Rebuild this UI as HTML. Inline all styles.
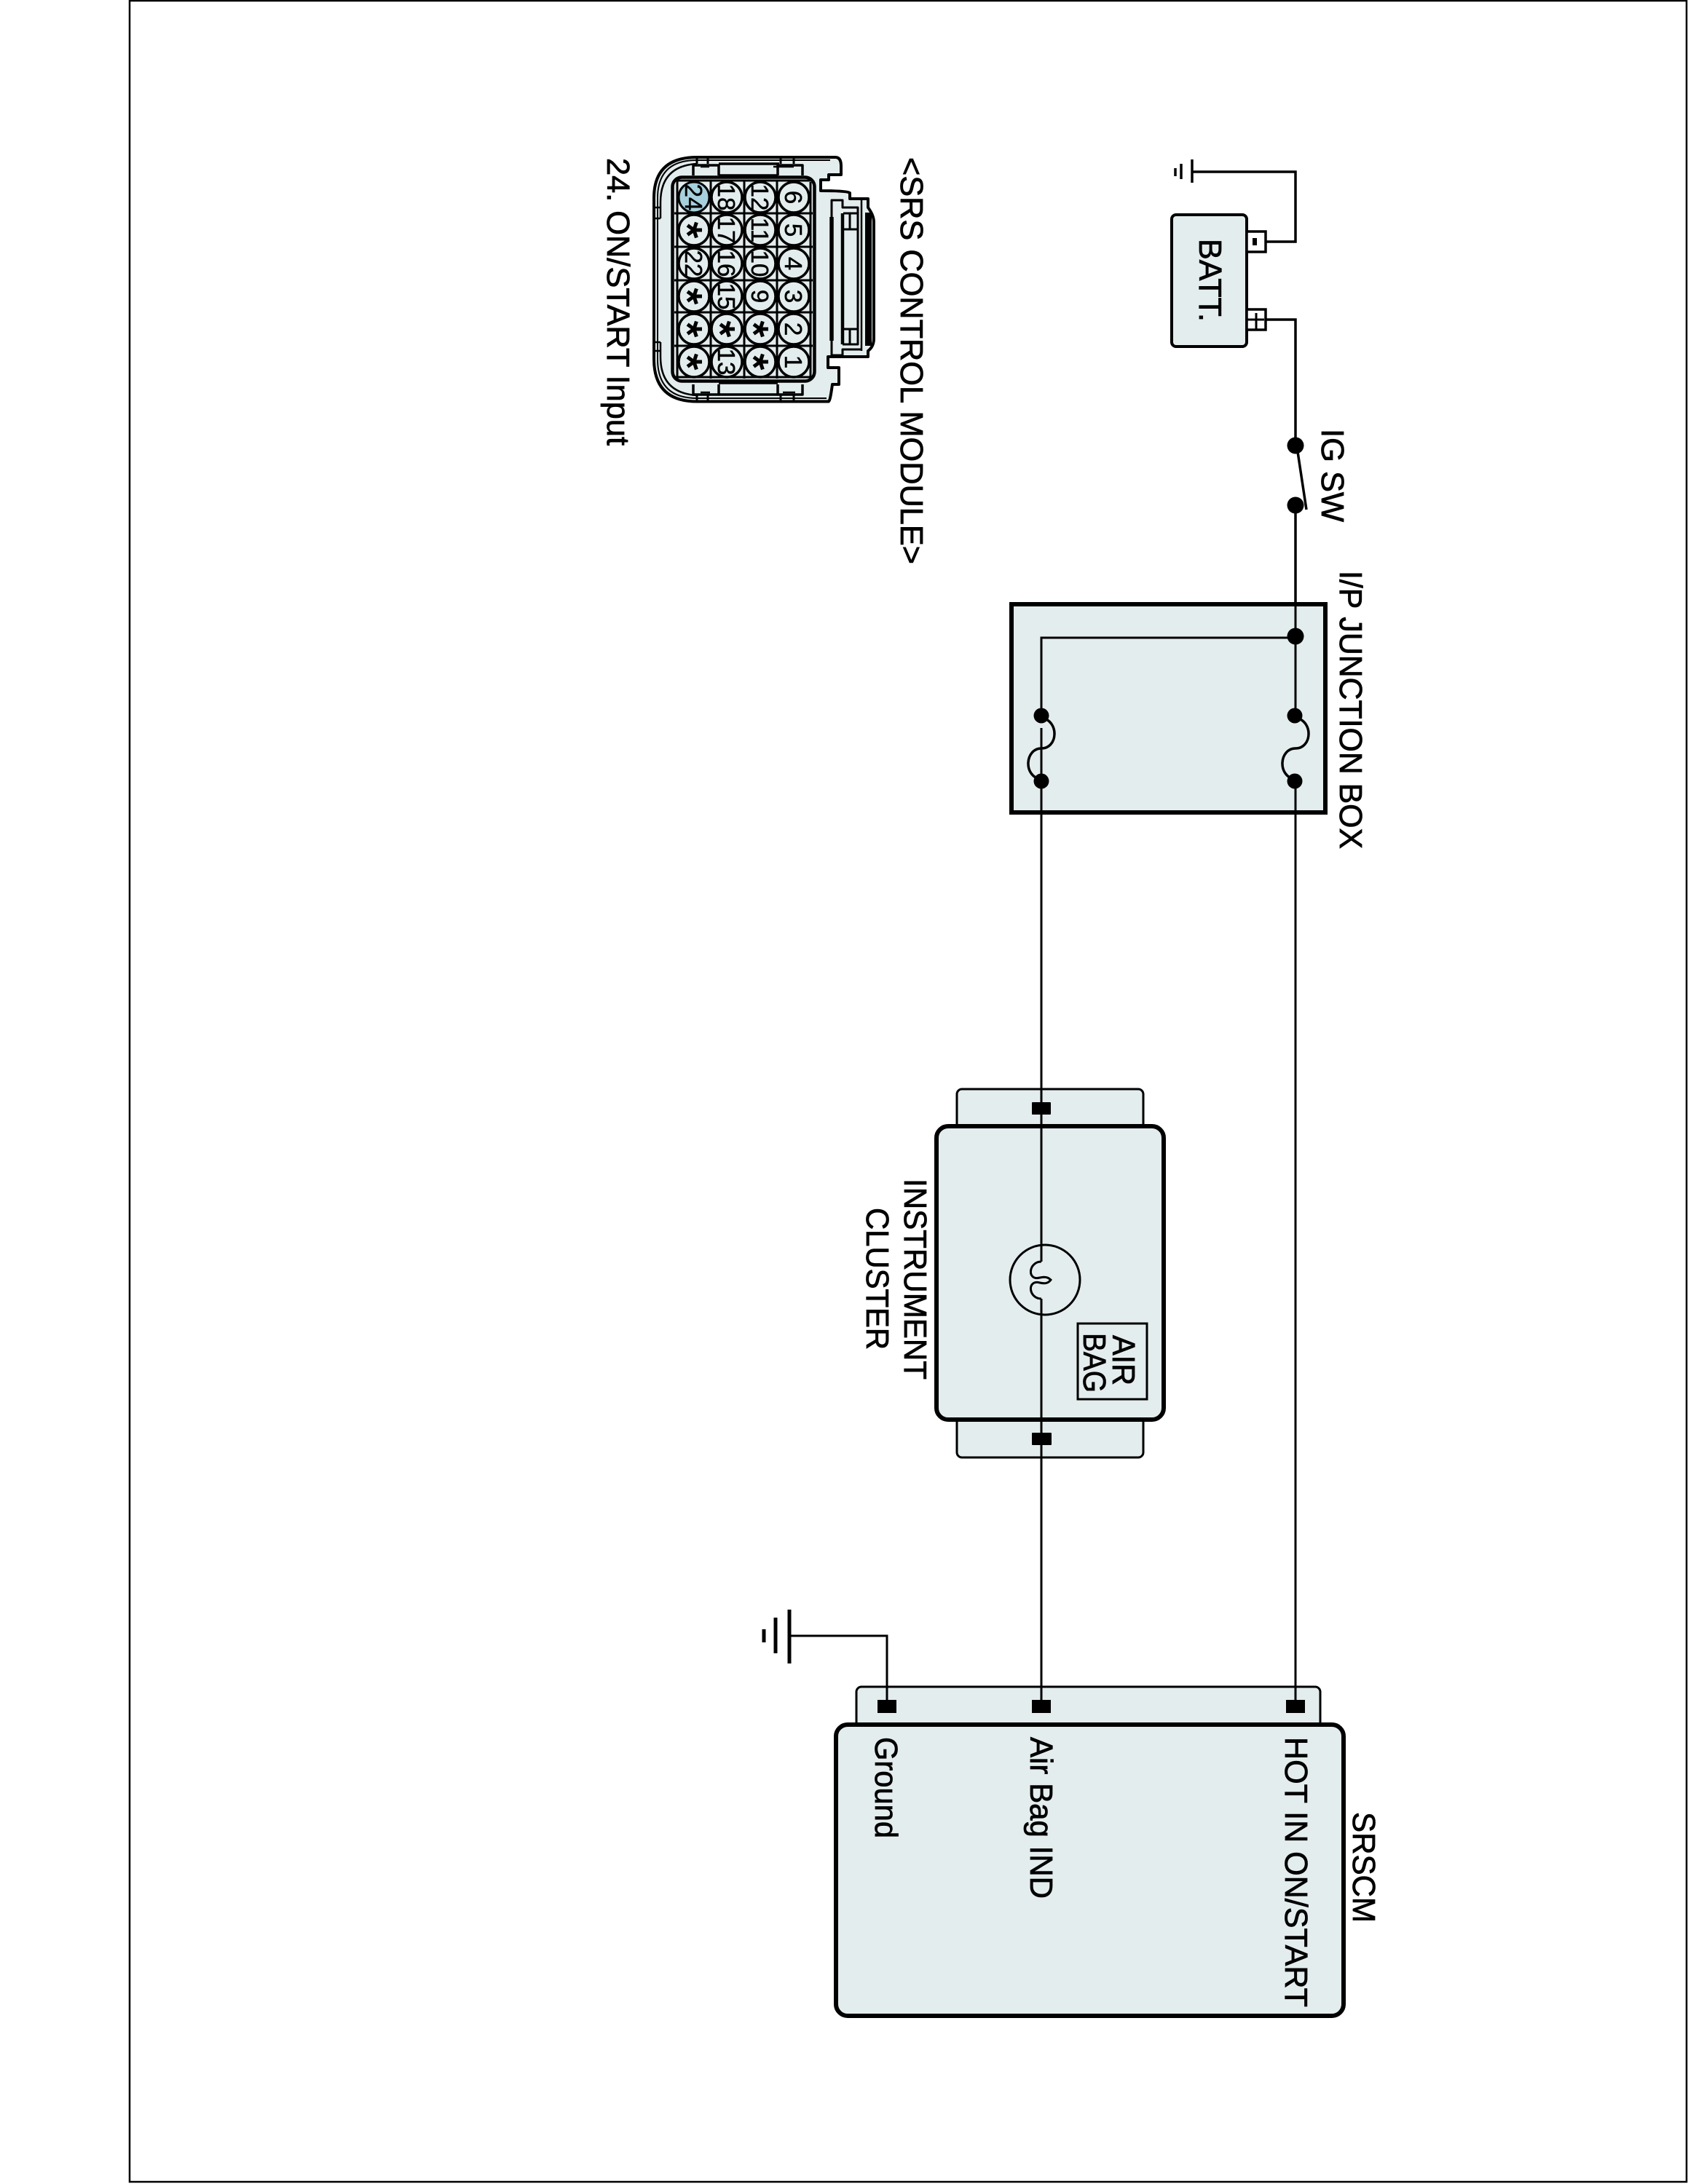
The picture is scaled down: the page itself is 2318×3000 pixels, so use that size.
<!DOCTYPE html>
<html><head><meta charset="utf-8">
<style>
html,body{margin:0;padding:0;background:#fff}
svg{display:block}
text{font-family:"Liberation Sans",Arial,sans-serif;fill:#000}
.l{font-size:44px;stroke:#000;stroke-width:.8px}
.p{font-size:33px;text-anchor:middle;stroke:#000;stroke-width:.5px}
</style></head><body>
<svg width="2318" height="3000" viewBox="0 0 2318 3000" xmlns="http://www.w3.org/2000/svg">
<defs>
<path id="a" d="M0 0L11 0M0 0L3.4 10.5M0 0L-8.9 6.5M0 0L-8.9 -6.5M0 0L3.4 -10.5" fill="none" stroke="#000" stroke-width="5"/>
</defs>
<rect width="2318" height="3000" fill="#fff"/>
<rect x="178" y="1" width="2138" height="2996" fill="none" stroke="#000" stroke-width="2.5"/>

<!-- Battery -->
<g stroke="#000" fill="none">
<rect x="1609" y="295" width="103" height="181" rx="6" fill="#e4edee" stroke-width="4"/>
<rect x="1712" y="318" width="26" height="28" fill="#fff" stroke-width="3.5"/>
<rect x="1712" y="425" width="26" height="28" fill="#fff" stroke-width="3.5"/>
<path d="M1712 439h24M1725 430v23" stroke-width="3"/>
<path d="M1723 327v10" stroke-width="6"/>
<path d="M1738 332H1779V236H1637M1637 219V251M1622 225V246M1614 231V242" stroke-width="3.5"/>
<path d="M1738 439H1779V612" stroke-width="3.5"/>
<path d="M1781 614L1794 700" stroke-width="3.5"/>
<path d="M1779 694V872" stroke-width="3.5"/>
</g>
<circle cx="1779" cy="612" r="11.5"/><circle cx="1779" cy="694" r="11.5"/>

<!-- Junction box -->
<rect x="1389" y="830" width="431" height="286" fill="#e4edee" stroke="#000" stroke-width="6"/>
<g stroke="#000" fill="none" stroke-width="3">
<path d="M1779 694V983M1779 1073V2343"/>
<path d="M1779 876H1430V983M1430 1073V2343"/>
<path d="M1430 986C1455 990 1453 1028 1430 1028C1408 1028 1404 1066 1430 1071" stroke-width="3.5"/>
<path d="M1779 986C1804 990 1802 1028 1779 1028C1757 1028 1753 1066 1779 1071" stroke-width="3.5"/>
</g>
<circle cx="1779" cy="874" r="11.5"/><circle cx="1778" cy="983" r="10.5"/><circle cx="1778" cy="1073" r="10.5"/>
<circle cx="1430" cy="983" r="10.5"/><circle cx="1430" cy="1073" r="10.5"/>

<!-- Cluster -->
<g stroke="#000">
<rect x="1314" y="1496" width="256" height="60" rx="7" fill="#e4edee" stroke-width="3"/>
<rect x="1314" y="1942" width="256" height="60" rx="7" fill="#e4edee" stroke-width="3"/>
<rect x="1286" y="1547" width="312" height="403" rx="16" fill="#e4edee" stroke-width="6"/>
<rect x="1417" y="1514" width="26" height="17" rx="1" stroke="none"/>
<rect x="1417" y="1968" width="27" height="17" rx="1" stroke="none"/>
<g fill="none" stroke-width="3">
<path d="M1430 1000V1733M1430 1784V2343"/>
<circle cx="1435" cy="1758" r="48"/>
<path d="M1430 1733C1412 1733 1410 1760 1428 1755C1436 1753 1440 1755 1443 1758C1440 1762 1436 1764 1428 1762C1410 1757 1412 1784 1430 1784"/>
<rect x="1480" y="1818" width="95" height="104"/>
</g>
</g>

<!-- SRSCM -->
<g stroke="#000">
<rect x="1176" y="2317" width="637" height="62" rx="7" fill="#e4edee" stroke-width="3"/>
<rect x="1148" y="2369" width="697" height="400" rx="16" fill="#e4edee" stroke-width="6"/>
<path d="M1218 2336V2247H1086" fill="none" stroke-width="3"/>
<path d="M1430 2300V2336M1779 2300V2336" fill="none" stroke-width="3"/>
<path d="M1084 2211V2285M1065 2222V2271M1049 2238V2256" fill="none" stroke-width="5"/>
</g>
<rect x="1205" y="2335" width="26" height="18"/><rect x="1417" y="2335" width="26" height="18"/><rect x="1766" y="2335" width="26" height="18"/>

<!-- Connector -->
<g stroke="#000" fill="none" stroke-linejoin="round">
<path d="M1147 216H957Q898 216 898 272V493Q898 551.500 957 551.500H1138Q1140 551 1143 528H1152V505H1137V490H1192V482Q1200 476 1200 465V305Q1200 296 1192 285V273H1167V265Q1163 262 1127 262V247H1138V240H1155V228Q1155 216 1147 216Z" fill="#e4edee" stroke-width="4"/>
<path d="M1140 220H957Q903 220 903 272V493Q903 547 957 547H1135" stroke-width="2"/>
<path d="M957 225Q907 228 907 278V300M957 543Q907 540 907 490V470" stroke-width="2.500"/>
<path d="M898 285H907M898 300H907M898 470H907M898 482H907" stroke-width="2.500"/>
<rect x="923.500" y="243.500" width="195" height="280" rx="13" fill="#e4edee" stroke-width="4.500"/>
<!-- clips -->
<path d="M952 241V227H987V241M1068 241V227H1102V241M952 528V542H987V528M1068 528V542H1102V528" stroke-width="3.500" fill="#e4edee"/>
<path d="M987 225H1070M987 241H1068M987 526H1068M987 542H1068" stroke-width="3.500"/>
<path d="M957 216V225M972 216V225M1072 216V225M1090 216V225M957 551V542M972 551V542M1072 551V542M1090 551V542" stroke-width="3"/>
<path d="M962 229H974M1062 229H1090M962 539H975M1075 539H1092" stroke-width="2.500"/>
<!-- right latch -->
<path d="M1142 298V468" stroke-width="5.500"/>
<path d="M1157 293V473" stroke-width="4.500"/>
<path d="M1142 298V275H1157V285H1178V473H1157" stroke-width="3"/>
<path d="M1183 273V482" stroke-width="2.500"/>
<path d="M1192.500 292V475" stroke-width="9"/>
<path d="M1158 315H1178M1167 293V315M1158 452H1178M1167 452V473M1158 293H1178" stroke-width="3"/>
<path d="M1142 468V488H1157V480H1183" stroke-width="3"/>
<!-- grid -->
<g stroke-width="3">
<path d="M930 247V520M976 247V520M1022 247V520M1067 247V520M1113 250V518"/>
<path d="M926 248H1116M926 293H1116M926 339H1116M926 385H1116M926 429H1116M926 475H1116M926 518H1116"/>
</g>
</g>
<g stroke="#000" stroke-width="3.500" fill="#e4edee">
<circle cx="1090" cy="271" r="21"/><circle cx="1090" cy="316" r="21"/><circle cx="1090" cy="362" r="21"/><circle cx="1090" cy="407" r="21"/><circle cx="1090" cy="452" r="21"/><circle cx="1090" cy="497" r="21"/>
<circle cx="1044" cy="271" r="21"/><circle cx="1044" cy="316" r="21"/><circle cx="1044" cy="362" r="21"/><circle cx="1044" cy="407" r="21"/><circle cx="1044" cy="452" r="21"/><circle cx="1044" cy="497" r="21"/>
<circle cx="998" cy="271" r="21"/><circle cx="998" cy="316" r="21"/><circle cx="998" cy="362" r="21"/><circle cx="998" cy="407" r="21"/><circle cx="998" cy="452" r="21"/><circle cx="998" cy="497" r="21"/>
<circle cx="953" cy="271" r="21" fill="#a6d0dc" stroke-width="3"/><circle cx="953" cy="316" r="21"/><circle cx="953" cy="362" r="21"/><circle cx="953" cy="407" r="21"/><circle cx="953" cy="452" r="21"/><circle cx="953" cy="497" r="21"/>
</g>
<g>
<text class="p" transform="translate(1078,271) rotate(90)">6</text>
<text class="p" transform="translate(1078,316) rotate(90)">5</text>
<text class="p" transform="translate(1078,362) rotate(90)">4</text>
<text class="p" transform="translate(1078,407) rotate(90)">3</text>
<text class="p" transform="translate(1078,452) rotate(90)">2</text>
<text class="p" transform="translate(1078,497) rotate(90)">1</text>
<text class="p" transform="translate(1032,271) rotate(90)">12</text>
<text class="p" transform="translate(1032,316) rotate(90)">11</text>
<text class="p" transform="translate(1032,362) rotate(90)">10</text>
<text class="p" transform="translate(1032,407) rotate(90)">9</text>
<text class="p" transform="translate(986,271) rotate(90)">18</text>
<text class="p" transform="translate(986,316) rotate(90)">17</text>
<text class="p" transform="translate(986,362) rotate(90)">16</text>
<text class="p" transform="translate(986,407) rotate(90)">15</text>
<text class="p" transform="translate(986,497) rotate(90)">13</text>
<text class="p" transform="translate(941,271) rotate(90)">24</text>
<text class="p" transform="translate(941,362) rotate(90)">22</text>
</g>
<use href="#a" x="1044" y="452"/>
<use href="#a" x="1044" y="497"/>
<use href="#a" x="998" y="452"/>
<use href="#a" x="953" y="316"/>
<use href="#a" x="953" y="407"/>
<use href="#a" x="953" y="452"/>
<use href="#a" x="953" y="497"/>

<!-- Labels -->
<text class="l" transform="translate(1237,216) rotate(90)" textLength="559" lengthAdjust="spacingAndGlyphs">&lt;SRS CONTROL MODULE&gt;</text>
<text class="l" transform="translate(834,217) rotate(90)" textLength="395" lengthAdjust="spacingAndGlyphs">24. ON/START Input</text>
<text class="l" transform="translate(1647,328) rotate(90)" textLength="114" lengthAdjust="spacingAndGlyphs">BATT.</text>
<text class="l" transform="translate(1815,589) rotate(90)" textLength="128" lengthAdjust="spacingAndGlyphs">IG SW</text>
<text class="l" transform="translate(1840,784) rotate(90)" textLength="382" lengthAdjust="spacingAndGlyphs">I/P JUNCTION BOX</text>
<text class="l" transform="translate(1242,1619) rotate(90)" textLength="276" lengthAdjust="spacingAndGlyphs">INSTRUMENT</text>
<text class="l" transform="translate(1190,1659) rotate(90)" textLength="195" lengthAdjust="spacingAndGlyphs">CLUSTER</text>
<text class="l" transform="translate(1528,1834) rotate(90)" textLength="69" lengthAdjust="spacingAndGlyphs">AIR</text>
<text class="l" transform="translate(1488,1831) rotate(90)" textLength="82" lengthAdjust="spacingAndGlyphs">BAG</text>
<text class="l" transform="translate(1765,2386) rotate(90)" textLength="371" lengthAdjust="spacingAndGlyphs">HOT IN ON/START</text>
<text class="l" transform="translate(1415,2386) rotate(90)" textLength="222" lengthAdjust="spacingAndGlyphs">Air Bag IND</text>
<text class="l" transform="translate(1202,2386) rotate(90)" textLength="139" lengthAdjust="spacingAndGlyphs">Ground</text>
<text class="l" transform="translate(1858,2489) rotate(90)" textLength="152" lengthAdjust="spacingAndGlyphs">SRSCM</text>
</svg>
</body></html>
